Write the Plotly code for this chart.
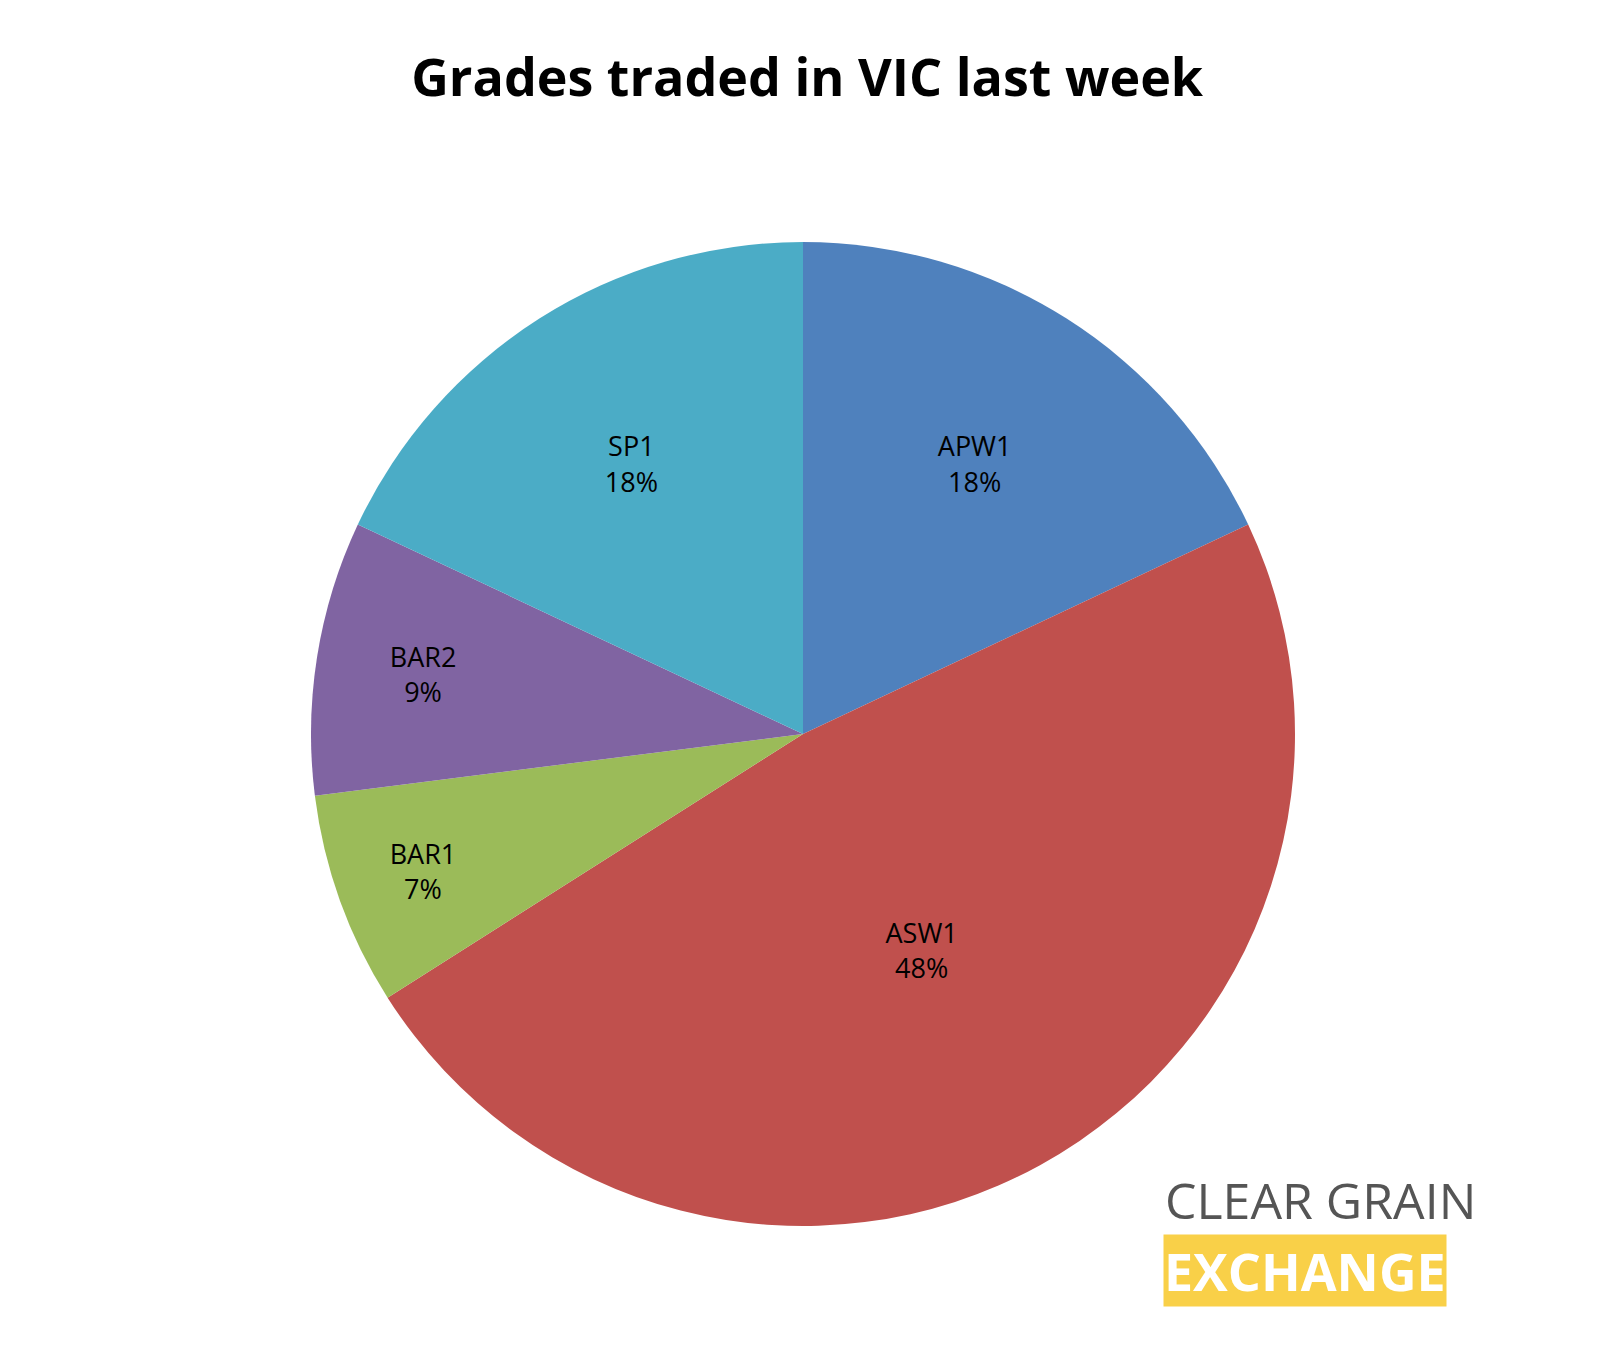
import plotly.graph_objects as go

labels = ["APW1", "ASW1", "BAR1", "BAR2", "SP1"]
values = [18, 48, 7, 9, 18]
colors = ["#4F81BD", "#C0504D", "#9BBB59", "#8064A2", "#4BACC6"]

W, H = 1608, 1350

fig = go.Figure(
    go.Pie(
        labels=labels,
        values=values,
        sort=False,
        direction="clockwise",
        rotation=0,
        marker=dict(colors=colors),
        texttemplate="%{label}<br>%{percent:.0%}",
        textposition="inside",
        insidetextorientation="horizontal",
        textfont=dict(family="Open Sans", size=27, color="black"),
        domain=dict(x=[303 / W, 1287 / W], y=[1 - 1218 / H, 1 - 234 / H]),
        showlegend=False,
        hoverinfo="label+percent",
    )
)

fig.update_layout(
    width=W,
    height=H,
    margin=dict(l=0, r=0, t=0, b=0),
    paper_bgcolor="white",
    title=dict(
        text="<b>Grades traded in VIC last week</b>",
        x=0.497,
        xanchor="center",
        y=1 - 70 / H,
        yanchor="middle",
        font=dict(family="Open Sans", size=52, color="black"),
    ),
    annotations=[
        dict(
            text="CLEAR GRAIN",
            x=1155 / W, y=1 - 1192 / H, xref="paper", yref="paper",
            xanchor="left", yanchor="middle", showarrow=False,
            font=dict(family="Open Sans", size=50, color="#555555"),
        ),
        dict(
            text="<b>EXCHANGE</b>",
            x=1155 / W, y=1 - 1262 / H, xref="paper", yref="paper",
            xanchor="left", yanchor="middle", showarrow=False,
            bgcolor="#F9D048", borderpad=0,
            font=dict(family="Open Sans", size=52, color="white"),
        ),
    ],
)

fig.write_html("out.html")
